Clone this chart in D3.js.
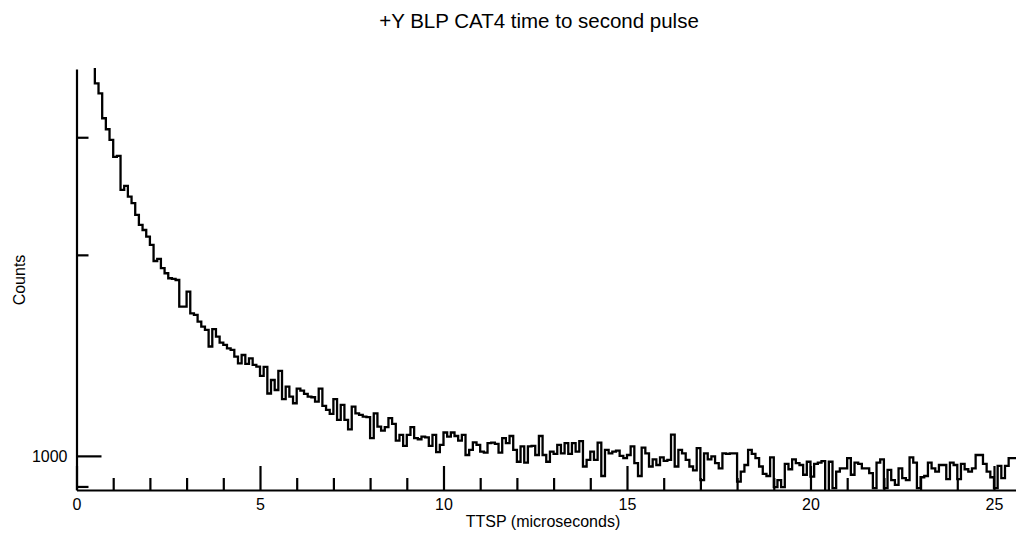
<!DOCTYPE html>
<html>
<head>
<meta charset="utf-8">
<script src="https://cdn.jsdelivr.net/npm/d3@7"></script>
<style>
  body { margin: 0; background: #fff; }
  svg { display: block; font-family: "Liberation Sans", Arial, Helvetica, sans-serif; }
</style>
</head>
<body>
<svg id="chart" width="1016" height="535"></svg>
<script>
// ---- data ----
const titleText = "+Y BLP CAT4 time to second pulse";
const xLabel = "TTSP (microseconds)";
const yLabel = "Counts";
const binStart = 0.4;      // microseconds, left edge of first bin
const binWidth = 0.1;      // microseconds
const counts = [
  4200, 3613, 3491, 3203, 3084, 2972, 2803, 2813, 2502, 2537,
  2445, 2390, 2296, 2217, 2179, 2130, 2070, 1958, 1972, 1910,
  1877, 1845, 1841, 1834, 1673, 1673, 1762, 1635, 1626, 1589,
  1562, 1544, 1458, 1548, 1509, 1478, 1466, 1449, 1441, 1408,
  1376, 1416, 1373, 1400, 1369, 1360, 1318, 1359, 1240, 1299,
  1255, 1341, 1216, 1270, 1227, 1199, 1261, 1252, 1238, 1227,
  1224, 1206, 1261, 1188, 1172, 1156, 1216, 1132, 1192, 1132,
  1096, 1185, 1158, 1152, 1145, 1143, 1063, 1158, 1106, 1091,
  1104, 1139, 1117, 1054, 1075, 1035, 1075, 1104, 1063, 1059,
  1069, 1066, 1035, 1075, 1013, 1039, 1084, 1069, 1084, 1071,
  1054, 1075, 1003, 1021, 1048, 1039, 1015, 1011, 1045, 1047,
  1042, 1011, 1063, 1045, 1071, 1021, 980, 1033, 977, 1033,
  1035, 1003, 1071, 1003, 980, 1015, 1007, 1039, 1009, 1045,
  1007, 1045, 1015, 1052, 964, 986, 1015, 986, 1047, 933,
  1021, 1009, 1015, 1018, 1000, 992, 1003, 1033, 975, 933,
  1029, 1009, 964, 988, 969, 995, 983, 986, 1076, 964,
  1021, 1009, 986, 964, 951, 1027, 920, 1009, 988, 998,
  975, 958, 1009, 1007, 1009, 1009, 915, 947, 969, 1021,
  1007, 992, 964, 940, 933, 995, 898, 920, 898, 973,
  955, 988, 975, 969, 937, 980, 931, 973, 977, 982,
  885, 980, 895, 947, 958, 958, 992, 937, 977, 973,
  958, 958, 942, 895, 977, 988, 895, 953, 920, 905,
  958, 926, 920, 995, 977, 895, 929, 933, 977, 958,
  947, 969, 969, 923, 977, 969, 923, 973, 955, 947,
  958, 1003, 1003, 973, 947, 929, 895, 966, 926, 966,
  992, 992
];
const xMajorTicks = [0, 5, 10, 15, 20, 25];
const xMinorTicks = [1,2,3,4,6,7,8,9,11,12,13,14,16,17,18,19,21,22,23,24];
const yMajorTicks = [1000];
const yMinorTicks = [900, 2000, 3000];
const xDomain = [0, 25.6];
const yDomain = [889, 3796];

// ---- layout ----
const L = 76.5, R = 1016, T = 69, B = 490;
const svg = d3.select("#chart");

const x = d3.scaleLinear().domain(xDomain).range([L, R]);
const y = d3.scaleLog().domain(yDomain).range([B, T]);

// clip
svg.append("defs").append("clipPath").attr("id", "plotclip")
  .append("rect").attr("x", L).attr("y", T - 1).attr("width", R - L).attr("height", B - T + 1);

// histogram points (step after), with final edge
const pts = counts.map((c, i) => [binStart + i * binWidth, c]);
pts.push([binStart + counts.length * binWidth, counts[counts.length - 1]]);

// axes
const fontSize = 16;
const xMajor = d3.axisBottom(x).tickValues(xMajorTicks).tickSize(-24).tickSizeOuter(0)
  .tickPadding(9).tickFormat(d3.format("d"));
const gx = svg.append("g").attr("transform", `translate(0,${B})`).call(xMajor);
const xMinor = d3.axisBottom(x).tickValues(xMinorTicks).tickSize(-12).tickSizeOuter(0).tickFormat("");
const gx2 = svg.append("g").attr("transform", `translate(0,${B})`).call(xMinor);
gx2.select(".domain").remove();

const yMajor = d3.axisLeft(y).tickValues(yMajorTicks).tickSize(-25).tickSizeOuter(0)
  .tickPadding(9).tickFormat(d3.format("d"));
const gy = svg.append("g").attr("transform", `translate(${L},0)`).call(yMajor);
const yMinor = d3.axisLeft(y).tickValues(yMinorTicks).tickSize(-12).tickSizeOuter(0).tickFormat("");
const gy2 = svg.append("g").attr("transform", `translate(${L},0)`).call(yMinor);
gy2.select(".domain").remove();

svg.selectAll(".domain").attr("stroke", "#000").attr("stroke-width", 2.2);
svg.selectAll(".tick line").attr("stroke", "#000").attr("stroke-width", 2.2);
svg.selectAll(".tick text").attr("fill", "#000").style("font-size", fontSize + "px")
  .style("font-family", '"Liberation Sans", Arial, sans-serif');

// histogram line
const line = d3.line().x(d => x(d[0])).y(d => y(d[1])).curve(d3.curveStepAfter);
svg.append("path")
  .attr("clip-path", "url(#plotclip)")
  .attr("d", line(pts))
  .attr("fill", "none")
  .attr("stroke", "#000")
  .attr("stroke-width", 2.3)
  .attr("stroke-linejoin", "miter");

// labels
svg.append("text").attr("x", 539).attr("y", 28).attr("text-anchor", "middle")
  .style("font-size", "20.5px").attr("fill", "#000").text(titleText);
svg.append("text").attr("x", 543).attr("y", 527).attr("text-anchor", "middle")
  .style("font-size", fontSize + "px").attr("fill", "#000").text(xLabel);
svg.append("text").attr("transform", "translate(25,280) rotate(-90)").attr("text-anchor", "middle")
  .style("font-size", fontSize + "px").attr("fill", "#000").text(yLabel);
</script>
</body>
</html>
